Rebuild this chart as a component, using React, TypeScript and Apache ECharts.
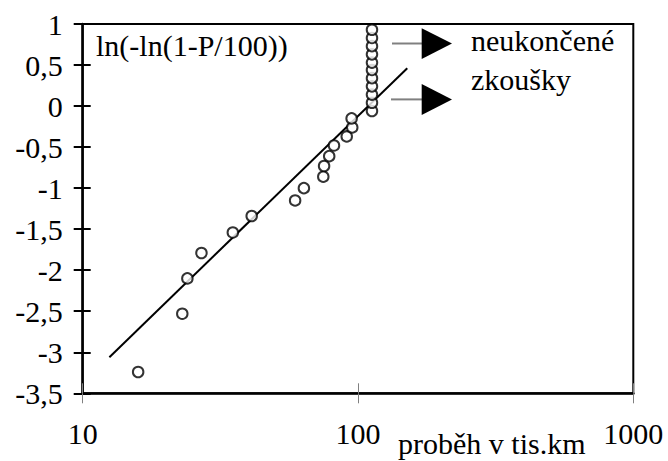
import React, { useEffect, useRef } from "react";
import * as echarts from "echarts";

const FONT = "Liberation Serif";

// completed tests (run in thousand km, ln(-ln(1-P/100)))
const failX = [15.9, 23.0, 24.0, 27.0, 35.1, 41.1, 59.1, 63.6, 74.8, 75.3, 78.6, 81.8, 91.0, 95.3, 94.8];
const failY = [-3.24, -2.53, -2.1, -1.79, -1.54, -1.34, -1.15, -1.0, -0.86, -0.73, -0.61, -0.48, -0.37, -0.26, -0.15];

// unfinished tests (censored)
const censX = [112.4, 112.4, 112.4, 112.4, 112.4, 112.4, 112.4, 112.4, 112.4, 112.4, 112.4];
const censY = [-0.06, 0.04, 0.14, 0.24, 0.34, 0.44, 0.53, 0.63, 0.73, 0.83, 0.93];

// fitted line end points
const fitX = [12.5, 151];
const fitY = [-3.06, 0.46];

const xTicks = [10, 100, 1000];
const yLabelText = (v: number) => String(v).replace(".", ",");

export default function App() {
  const ref = useRef<HTMLDivElement>(null);
  useEffect(() => {
    if (!ref.current) return;
    const chart = echarts.init(ref.current, null, { renderer: "svg" });
    const pts = failX.map((x, i) => [x, failY[i]]);
    const cens = censX.map((x, i) => [x, censY[i]]);
    const fit = fitX.map((x, i) => [x, fitY[i]]);
    const circle = {
      symbol: "circle",
      symbolSize: 10.5,
      itemStyle: { color: "#fff", borderColor: "#000", borderWidth: 2 },
    };
    chart.setOption({
      animation: false,
      backgroundColor: "#fff",
      textStyle: { fontFamily: FONT },
      grid: {
        left: 82.7,
        top: 24,
        right: 34.7,
        bottom: 67.7,
        show: true,
        borderColor: "#000",
        borderWidth: 2,
        backgroundColor: "transparent",
      },
      xAxis: [
        {
          type: "log",
          logBase: 10,
          min: xTicks[0],
          max: xTicks[xTicks.length - 1],
          position: "bottom",
          splitLine: { show: false },
          minorTick: { show: false },
          axisLine: { show: true, onZero: false, lineStyle: { color: "#000", width: 2.5 } },
          axisTick: { show: true, inside: false, length: 10, lineStyle: { color: "#808080", width: 1 } },
          axisLabel: {
            color: "#000",
            fontFamily: FONT,
            fontSize: 30,
            margin: 25,
            formatter: (v: number) => String(Math.round(v)),
          },
        },
        {
          type: "log",
          logBase: 10,
          min: xTicks[0],
          max: xTicks[xTicks.length - 1],
          position: "bottom",
          splitLine: { show: false },
          axisLine: { show: false, onZero: false },
          axisTick: { show: true, inside: true, length: 10, lineStyle: { color: "#808080", width: 1 } },
          axisLabel: { show: false },
        },
      ],
      yAxis: [
        {
          type: "value",
          min: -3.5,
          max: 1,
          interval: 0.5,
          position: "left",
          splitLine: { show: false },
          axisLine: { show: true, onZero: false, lineStyle: { color: "#000", width: 2.5 } },
          axisTick: { show: true, inside: false, length: 9, lineStyle: { color: "#000", width: 2 } },
          axisLabel: {
            color: "#000",
            fontFamily: FONT,
            fontSize: 30,
            margin: 20,
            formatter: (v: number) => yLabelText(v),
          },
        },
        {
          type: "value",
          min: -3.5,
          max: 1,
          interval: 0.5,
          position: "left",
          splitLine: { show: false },
          axisLine: { show: false, onZero: false },
          axisTick: { show: true, inside: true, length: 8, lineStyle: { color: "#000", width: 2 } },
          axisLabel: { show: false },
        },
      ],
      series: [
        {
          type: "line",
          data: fit,
          showSymbol: false,
          symbol: "none",
          lineStyle: { color: "#000", width: 2 },
          z: 2,
        },
        { type: "scatter", data: pts, ...circle, z: 3 },
        { type: "scatter", data: cens, ...circle, z: 3 },
      ],
      graphic: [
        {
          type: "text",
          left: 96,
          top: 30,
          style: { text: "ln(-ln(1-P/100))", fontFamily: FONT, fontSize: 30, fill: "#000" },
        },
        {
          type: "line",
          shape: { x1: 392, y1: 43.5, x2: 422, y2: 43.5 },
          style: { stroke: "#808080", lineWidth: 2 },
        },
        {
          type: "polygon",
          shape: { points: [[421.7, 28.3], [452, 43.5], [421.7, 59]] },
          style: { fill: "#000" },
        },
        {
          type: "line",
          shape: { x1: 391, y1: 99.4, x2: 422, y2: 99.4 },
          style: { stroke: "#808080", lineWidth: 2 },
        },
        {
          type: "polygon",
          shape: { points: [[421.7, 84], [452, 99.5], [421.7, 115]] },
          style: { fill: "#000" },
        },
        {
          type: "text",
          left: 471,
          top: 25,
          style: { text: "neukončené", fontFamily: FONT, fontSize: 30, fill: "#000" },
        },
        {
          type: "text",
          left: 471,
          top: 64,
          style: { text: "zkoušky", fontFamily: FONT, fontSize: 30, fill: "#000" },
        },
        {
          type: "text",
          left: 398,
          top: 428,
          style: { text: "proběh v tis.km", fontFamily: FONT, fontSize: 30, fill: "#000" },
        },
      ],
    });
    return () => chart.dispose();
  }, []);
  return (
    <div
      ref={ref}
      style={{ position: "fixed", left: 0, top: 0, width: 668, height: 461, background: "#fff" }}
    />
  );
}
